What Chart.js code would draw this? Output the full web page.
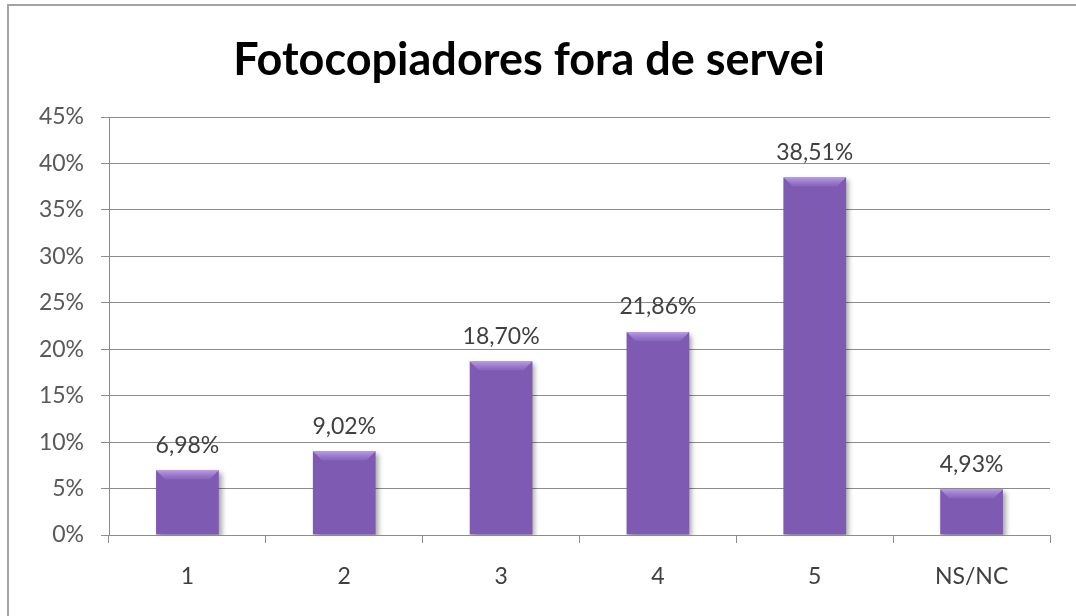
<!DOCTYPE html>
<html>
<head>
<meta charset="utf-8">
<script src="https://cdn.jsdelivr.net/npm/chart.js@4.4.0/dist/chart.umd.min.js"></script>
<style>
  html, body { margin: 0; padding: 0; background: #fff; overflow: hidden; }
  #frame { position: absolute; left: 7px; top: 4px; width: 1200px; height: 800px; border: 2px solid #a3a3a3; }
  #wrap { position: absolute; left: 0; top: 0; width: 1076px; height: 616px; }
</style>
</head>
<body>
<div id="frame"></div>
<div id="wrap"><canvas id="chart" width="1076" height="616"></canvas></div>
<script>
const categories = ["1", "2", "3", "4", "5", "NS/NC"];
const values = [6.98, 9.02, 18.70, 21.86, 38.51, 4.93];
const chartTitle = "Fotocopiadores fora de servei";

const fmt = v => v.toFixed(2).replace(".", ",") + "%";
const fontFamily = "Lato, 'Open Sans', sans-serif";

// horizontal shading on each bar, darker at the sides
function barFill(ctx) {
  const el = ctx.element;
  if (!el || el.x === undefined) return "#7e5ab2";
  const c = ctx.chart.ctx;
  const half = el.width / 2;
  const g = c.createLinearGradient(el.x - half, 0, el.x + half, 0);
  g.addColorStop(0, "#5c3d8a");
  g.addColorStop(0.12, "#7653aa");
  g.addColorStop(0.5, "#8360b8");
  g.addColorStop(0.88, "#7653aa");
  g.addColorStop(1, "#5c3d8a");
  return g;
}

const barShadow = {
  id: "barShadow",
  beforeDatasetsDraw(chart) {
    const c = chart.ctx;
    c.save();
    c.shadowColor = "rgba(0,0,0,0.35)";
    c.shadowBlur = 5;
    c.shadowOffsetX = 3;
    c.shadowOffsetY = 3;
  },
  afterDatasetsDraw(chart) {
    chart.ctx.restore();
    const c = chart.ctx;
    const meta = chart.getDatasetMeta(0);
    // little bevel on the top of each bar
    meta.data.forEach(bar => {
      const half = bar.width / 2;
      const b = 9;
      c.save();
      const g = c.createLinearGradient(0, bar.y, 0, bar.y + b);
      g.addColorStop(0, "rgba(205,180,245,0.75)");
      g.addColorStop(1, "rgba(170,140,220,0.25)");
      c.fillStyle = g;
      c.beginPath();
      c.moveTo(bar.x - half, bar.y);
      c.lineTo(bar.x + half, bar.y);
      c.lineTo(bar.x + half - b, bar.y + b);
      c.lineTo(bar.x - half + b, bar.y + b);
      c.closePath();
      c.fill();
      c.restore();
    });
    // value labels over the bars
    c.save();
    c.font = "23px " + fontFamily;
    c.fillStyle = "#404040";
    c.textAlign = "center";
    c.textBaseline = "middle";
    meta.data.forEach((bar, i) => {
      c.fillText(fmt(values[i]), bar.x, bar.y - 25);
    });
    c.restore();
  }
};

new Chart(document.getElementById("chart"), {
  type: "bar",
  data: {
    labels: categories,
    datasets: [{
      data: values,
      backgroundColor: barFill,
      borderWidth: 0,
      categoryPercentage: 1,
      barPercentage: 0.4
    }]
  },
  options: {
    responsive: false,
    animation: false,
    layout: { padding: { left: 8, right: 26, top: 0, bottom: 0 } },
    plugins: {
      legend: { display: false },
      tooltip: { enabled: false },
      title: {
        display: true,
        text: chartTitle,
        color: "#000",
        font: { family: fontFamily, size: 45, weight: "bold", lineHeight: 1.2 },
        padding: { top: 33, bottom: 30 }
      }
    },
    scales: {
      y: {
        min: 0,
        max: 45,
        ticks: {
          stepSize: 5,
          color: "#595959",
          padding: 17,
          font: { family: fontFamily, size: 23 },
          callback: v => v + "%"
        },
        grid: { color: "#8c8c8c", lineWidth: 1, tickLength: 8 },
        border: { color: "#8c8c8c" },
        afterFit(scale) { scale.width = 101; }
      },
      x: {
        offset: true,
        grid: { offset: true, drawOnChartArea: false, color: "#8c8c8c", tickLength: 8 },
        border: { color: "#8c8c8c" },
        ticks: {
          color: "#404040",
          padding: 20,
          font: { family: fontFamily, size: 23 }
        },
        afterFit(scale) { scale.height = 81; }
      }
    }
  },
  plugins: [barShadow]
});
</script>
</body>
</html>
